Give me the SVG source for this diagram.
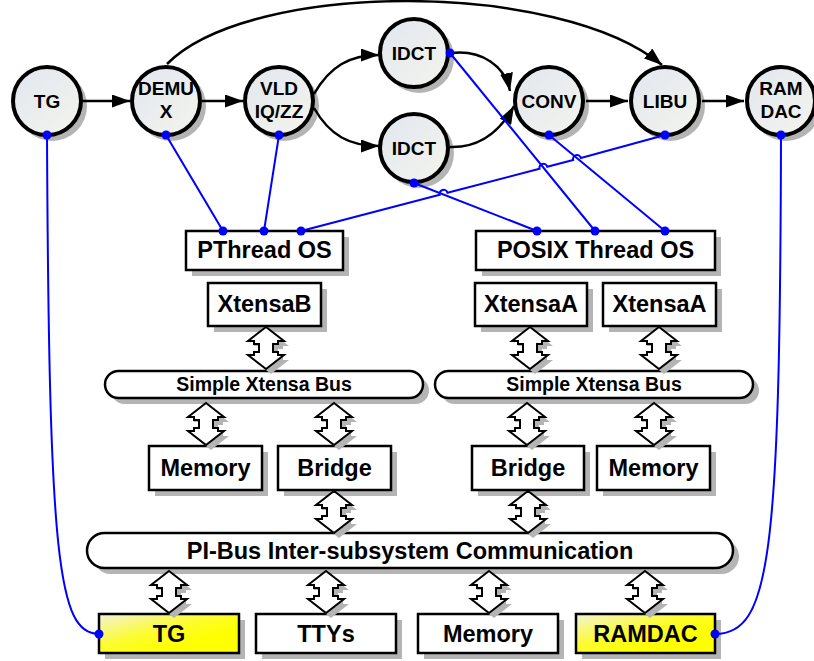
<svg xmlns="http://www.w3.org/2000/svg" width="814" height="661" viewBox="0 0 814 661">
<defs>
  <linearGradient id="cg" x1="0" y1="0" x2="1" y2="1">
    <stop offset="0" stop-color="#e1e7f0"/>
    <stop offset="1" stop-color="#f4f4ec"/>
  </linearGradient>
  <linearGradient id="yg" x1="0" y1="0" x2="0.7" y2="0.7">
    <stop offset="0" stop-color="#f3f3d8"/>
    <stop offset="0.6" stop-color="#fcfc30"/>
    <stop offset="1" stop-color="#ffff00"/>
  </linearGradient>
  <marker id="ah" markerWidth="18" markerHeight="13" refX="18" refY="6.5" orient="auto" markerUnits="userSpaceOnUse">
    <path d="M0,0 L18,6.5 L0,13 Z" fill="#000"/>
  </marker>
  <path id="dbl" d="M0,0 L18,14 L12,14 L12,17 L7,17 L7,25 L12,25 L12,28 L18,28 L0,42 L-18,28 L-12,28 L-12,25 L-7,25 L-7,17 L-12,17 L-12,14 L-18,14 Z"/>
</defs>
<style>
  .c{fill:url(#cg);stroke:#000;stroke-width:4}
  .sh{fill:#b4b4b4}
  .b{fill:#fff;stroke:#000;stroke-width:2.5}
  .y{fill:url(#yg);stroke:#000;stroke-width:2.5}
  .t{font-family:"Liberation Sans",Arial,sans-serif;font-weight:bold;text-anchor:middle;fill:#000}
  .ct{font-size:19px}
  .bt{font-size:23.5px}
  .st{font-size:19.5px}
  .fl{fill:none;stroke:#000;stroke-width:2.5}
  .bl{fill:none;stroke:#0000ff;stroke-width:2}
  .d{fill:#0000ff}
  .a{fill:#fff;stroke:#000;stroke-width:2;stroke-linejoin:miter}
</style>
<rect width="814" height="661" fill="#fff"/>

<!-- process nodes -->
<g id="n-tg">
  <circle class="sh" cx="52" cy="106" r="35"/>
  <circle class="c" cx="47" cy="101" r="34"/>
  <text class="t ct" x="47" y="108">TG</text>
</g>
<g id="n-demux">
  <circle class="sh" cx="171" cy="106" r="35"/>
  <circle class="c" cx="166" cy="101" r="34"/>
  <text class="t ct" x="166" y="95">DEMU</text>
  <text class="t ct" x="166" y="118">X</text>
</g>
<g id="n-vld">
  <circle class="sh" cx="284" cy="106" r="35"/>
  <circle class="c" cx="279" cy="101" r="34"/>
  <text class="t ct" x="279" y="95">VLD</text>
  <text class="t ct" x="279" y="118">IQ/ZZ</text>
</g>
<g id="n-idct1">
  <circle class="sh" cx="419" cy="58" r="35"/>
  <circle class="c" cx="414" cy="53" r="34"/>
  <text class="t ct" x="414" y="60">IDCT</text>
</g>
<g id="n-idct2">
  <circle class="sh" cx="419" cy="153" r="35"/>
  <circle class="c" cx="414" cy="148" r="34"/>
  <text class="t ct" x="414" y="155">IDCT</text>
</g>
<g id="n-conv">
  <circle class="sh" cx="554" cy="106" r="35"/>
  <circle class="c" cx="549" cy="101" r="34"/>
  <text class="t ct" x="549" y="108">CONV</text>
</g>
<g id="n-libu">
  <circle class="sh" cx="670" cy="106" r="35"/>
  <circle class="c" cx="665" cy="101" r="34"/>
  <text class="t ct" x="665" y="108">LIBU</text>
</g>
<g id="n-ramdac">
  <circle class="sh" cx="786" cy="106" r="35"/>
  <circle class="c" cx="781" cy="101" r="34"/>
  <text class="t ct" x="781" y="95">RAM</text>
  <text class="t ct" x="781" y="118">DAC</text>
</g>

<!-- OS and processor boxes -->
<g id="pthread-os">
  <rect class="sh" x="192" y="237" width="157" height="39"/>
  <rect class="b" x="186" y="231" width="157" height="39"/>
  <text class="t bt" x="264.5" y="258">PThread OS</text>
</g>
<g id="posix-os">
  <rect class="sh" x="482" y="237" width="239" height="39"/>
  <rect class="b" x="476" y="231" width="239" height="39"/>
  <text class="t bt" x="595.5" y="258">POSIX Thread OS</text>
</g>
<g id="xtensaB">
  <rect class="sh" x="214" y="289" width="113" height="43"/>
  <rect class="b" x="208" y="283" width="113" height="43"/>
  <text class="t bt" x="264.5" y="312">XtensaB</text>
</g>
<g id="xtensaA1">
  <rect class="sh" x="481" y="289" width="112" height="43"/>
  <rect class="b" x="475" y="283" width="112" height="43"/>
  <text class="t bt" x="531" y="312">XtensaA</text>
</g>
<g id="xtensaA2">
  <rect class="sh" x="609" y="289" width="113" height="43"/>
  <rect class="b" x="603" y="283" width="113" height="43"/>
  <text class="t bt" x="659.5" y="312">XtensaA</text>
</g>

<!-- buses -->
<g id="bus-left">
  <rect class="sh" x="111" y="377" width="318" height="27" rx="13.5"/>
  <rect class="b" x="105" y="371" width="318" height="27" rx="13.5"/>
  <text class="t st" x="264" y="391">Simple Xtensa Bus</text>
</g>
<g id="bus-right">
  <rect class="sh" x="441" y="377" width="318" height="27" rx="13.5"/>
  <rect class="b" x="435" y="371" width="318" height="27" rx="13.5"/>
  <text class="t st" x="594" y="391">Simple Xtensa Bus</text>
</g>

<g id="memory-left">
  <rect class="sh" x="155" y="452" width="113" height="44"/>
  <rect class="b" x="149" y="446" width="113" height="44"/>
  <text class="t bt" x="205.5" y="476">Memory</text>
</g>
<g id="bridge-left">
  <rect class="sh" x="284" y="452" width="113" height="44"/>
  <rect class="b" x="278" y="446" width="113" height="44"/>
  <text class="t bt" x="334.5" y="476">Bridge</text>
</g>
<g id="bridge-right">
  <rect class="sh" x="478" y="452" width="112" height="44"/>
  <rect class="b" x="472" y="446" width="112" height="44"/>
  <text class="t bt" x="528" y="476">Bridge</text>
</g>
<g id="memory-right">
  <rect class="sh" x="603" y="452" width="113" height="44"/>
  <rect class="b" x="597" y="446" width="113" height="44"/>
  <text class="t bt" x="653.5" y="476">Memory</text>
</g>

<g id="pi-bus">
  <rect class="sh" x="93" y="539" width="646" height="35" rx="17.5"/>
  <rect class="b" x="87" y="533" width="646" height="35" rx="17.5"/>
  <text class="t bt" x="410" y="559">PI-Bus Inter-subsystem Communication</text>
</g>

<g id="tg-hw">
  <rect class="sh" x="105" y="620" width="140" height="39"/>
  <rect class="y" x="99" y="614" width="140" height="39"/>
  <text class="t bt" x="169" y="642">TG</text>
</g>
<g id="ttys">
  <rect class="sh" x="262" y="620" width="140" height="39"/>
  <rect class="b" x="256" y="614" width="140" height="39"/>
  <text class="t bt" x="326" y="642">TTYs</text>
</g>
<g id="memory-pi">
  <rect class="sh" x="424" y="620" width="140" height="39"/>
  <rect class="b" x="418" y="614" width="140" height="39"/>
  <text class="t bt" x="488" y="642">Memory</text>
</g>
<g id="ramdac-hw">
  <rect class="sh" x="582" y="620" width="139" height="39"/>
  <rect class="y" x="576" y="614" width="139" height="39"/>
  <text class="t bt" x="645.5" y="642">RAMDAC</text>
</g>

<!-- connectors -->
<g id="connectors">
  <!-- bus links (double arrows) -->
  <g id="bus-links">
    <use href="#dbl" class="sh" x="271" y="332"/><use href="#dbl" class="a" x="266" y="327"/>
    <use href="#dbl" class="sh" x="535" y="332"/><use href="#dbl" class="a" x="530" y="327"/>
    <use href="#dbl" class="sh" x="664" y="332"/><use href="#dbl" class="a" x="659" y="327"/>
    <use href="#dbl" class="sh" x="211" y="408"/><use href="#dbl" class="a" x="206" y="403"/>
    <use href="#dbl" class="sh" x="339" y="408"/><use href="#dbl" class="a" x="334" y="403"/>
    <use href="#dbl" class="sh" x="532" y="408"/><use href="#dbl" class="a" x="527" y="403"/>
    <use href="#dbl" class="sh" x="659" y="408"/><use href="#dbl" class="a" x="654" y="403"/>
    <use href="#dbl" class="sh" x="339" y="496"/><use href="#dbl" class="a" x="334" y="491"/>
    <use href="#dbl" class="sh" x="533" y="496"/><use href="#dbl" class="a" x="528" y="491"/>
    <use href="#dbl" class="sh" x="174" y="576"/><use href="#dbl" class="a" x="169" y="571"/>
    <use href="#dbl" class="sh" x="331" y="576"/><use href="#dbl" class="a" x="326" y="571"/>
    <use href="#dbl" class="sh" x="494" y="576"/><use href="#dbl" class="a" x="489" y="571"/>
    <use href="#dbl" class="sh" x="650" y="576"/><use href="#dbl" class="a" x="645" y="571"/>
  </g>
  <!-- data flow -->
  <g id="flows">
    <path class="fl" d="M83,101 L130,101" marker-end="url(#ah)"/>
    <path class="fl" d="M202,101 L243,101" marker-end="url(#ah)"/>
    <path class="fl" d="M586,101 L628,101" marker-end="url(#ah)"/>
    <path class="fl" d="M702,101 L744,101" marker-end="url(#ah)"/>
    <path class="fl" d="M167,64 C250,-20 560,-20 662,65" marker-end="url(#ah)"/>
    <path class="fl" d="M314,94 C330,66 350,55 379,55" marker-end="url(#ah)"/>
    <path class="fl" d="M314,108 C330,136 350,146 379,146" marker-end="url(#ah)"/>
    <path class="fl" d="M452,53 C482,50 505,66 510,91" marker-end="url(#ah)"/>
    <path class="fl" d="M450,147 C482,148 502,128 514,106" marker-end="url(#ah)"/>
  </g>
  <!-- mapping links -->
  <g id="mapping">
    <path class="bl" d="M47,135 C49,560 58,634 99,634"/>
    <path class="bl" d="M781,135 C780,560 770,634 715,634"/>
    <path class="bl" d="M166,135 L223,231"/>
    <path class="bl" d="M279,135 L264,231"/>
    <path class="bl" d="M414,183 L537,231"/>
    <path class="bl" d="M450,53 L595,231"/>
    <path class="bl" d="M549,135 L665,231"/>
    <path class="bl" d="M665,135 L580.87,157.96 A4,4 0 0 0 573.13,159.98 L547.27,166.73 A4,4 0 0 0 539.53,168.75 L447.47,192.77 A4,4 0 0 0 439.73,194.79 L301,231"/>
    <circle class="d" cx="47" cy="135" r="4.5"/>
    <circle class="d" cx="166" cy="135" r="4.5"/>
    <circle class="d" cx="279" cy="135" r="4.5"/>
    <circle class="d" cx="450" cy="53" r="4.5"/>
    <circle class="d" cx="414" cy="183" r="4.5"/>
    <circle class="d" cx="549" cy="135" r="4.5"/>
    <circle class="d" cx="665" cy="135" r="4.5"/>
    <circle class="d" cx="781" cy="135" r="4.5"/>
    <circle class="d" cx="223" cy="231" r="4.5"/>
    <circle class="d" cx="264" cy="231" r="4.5"/>
    <circle class="d" cx="301" cy="231" r="4.5"/>
    <circle class="d" cx="537" cy="231" r="4.5"/>
    <circle class="d" cx="595" cy="231" r="4.5"/>
    <circle class="d" cx="665" cy="231" r="4.5"/>
    <circle class="d" cx="99" cy="634" r="4.5"/>
    <circle class="d" cx="715" cy="634" r="4.5"/>
  </g>
</g>
</svg>
